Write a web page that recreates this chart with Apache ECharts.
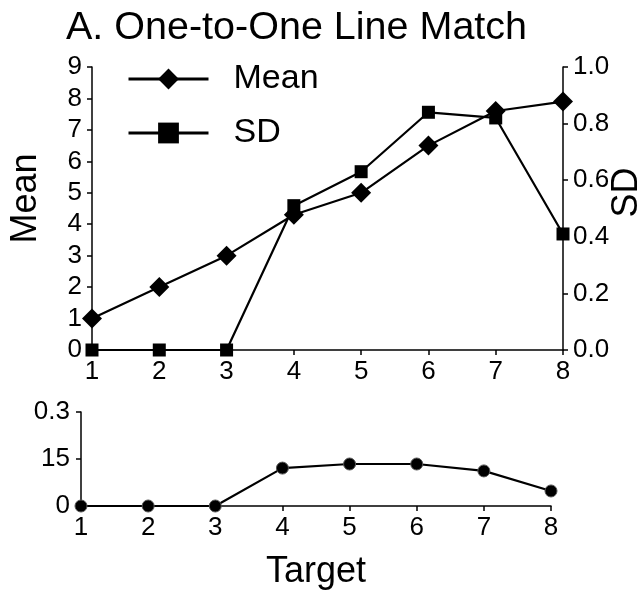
<!DOCTYPE html>
<html>
<head>
<meta charset="utf-8">
<script src="https://cdn.jsdelivr.net/npm/echarts@6/dist/echarts.min.js"></script>
<style>
  html, body { margin: 0; padding: 0; background: #fff; }
  #chart { width: 639px; height: 597px; }
</style>
</head>
<body>
<div id="chart"></div>
<script>
var targets = ['1', '2', '3', '4', '5', '6', '7', '8'];
var meanValues = [1, 2, 3, 4.3, 5.0, 6.5, 7.6, 7.9];
var sdValues = [0, 0, 0, 0.51, 0.63, 0.84, 0.82, 0.41];
var lowerValues = [0, 0, 0, 12.1, 13.4, 13.4, 11.2, 4.8];
var lowerTickLabels = { 0: '0', 15: '15', 30: '0.3' };

var font = 'Liberation Sans, Arial, sans-serif';
var axisLine = { show: true, lineStyle: { color: '#000', width: 1.5 } };
var axisTick = { show: true, length: 5, lineStyle: { color: '#000', width: 1.5 } };
var tickLabel = { color: '#000', fontSize: 26, fontFamily: font };

var chart = echarts.init(document.getElementById('chart'));

var option = {
    backgroundColor: '#fff',
    animation: false,
    title: {
        text: 'A. One-to-One Line Match',
        left: 66,
        top: 8,
        padding: 0,
        textStyle: { color: '#000', fontSize: 39.5, fontWeight: 'normal', fontFamily: font }
    },
    legend: {
        data: ['Mean', 'SD'],
        orient: 'vertical',
        left: 127,
        top: 62,
        padding: 0,
        itemWidth: 80,
        itemHeight: 26,
        itemGap: 20,
        lineStyle: { width: 3 },
        textStyle: { color: '#000', fontSize: 34, fontFamily: font, lineHeight: 34, padding: [0, 0, 0, 20] }
    },
    grid: [
        { left: 92, right: 76, top: 67, bottom: 247, outerBoundsMode: 'none' },
        { left: 81, right: 88, top: 412, bottom: 91, outerBoundsMode: 'none' }
    ],
    xAxis: [
        {
            gridIndex: 0,
            type: 'category',
            data: targets,
            boundaryGap: false,
            axisLine: axisLine,
            axisTick: axisTick,
            axisLabel: Object.assign({ margin: 9 }, tickLabel),
            splitLine: { show: false }
        },
        {
            gridIndex: 1,
            type: 'category',
            data: targets,
            boundaryGap: false,
            axisLine: axisLine,
            axisTick: axisTick,
            axisLabel: Object.assign({ margin: 9 }, tickLabel),
            splitLine: { show: false },
            name: 'Target',
            nameLocation: 'middle',
            nameGap: 48,
            nameTextStyle: { color: '#000', fontSize: 36, fontFamily: font }
        }
    ],
    yAxis: [
        {
            gridIndex: 0,
            type: 'value',
            min: 0,
            max: 9,
            interval: 1,
            position: 'left',
            axisLine: axisLine,
            axisTick: axisTick,
            axisLabel: Object.assign({ margin: 10 }, tickLabel),
            splitLine: { show: false },
            name: 'Mean',
            nameLocation: 'middle',
            nameRotate: 90,
            nameGap: 48,
            nameTextStyle: { color: '#000', fontSize: 36, fontFamily: font, padding: [0, 0, 0, 20] }
        },
        {
            gridIndex: 0,
            type: 'value',
            min: 0,
            max: 1,
            interval: 0.2,
            position: 'right',
            axisLine: axisLine,
            axisTick: axisTick,
            axisLabel: Object.assign({ margin: 10, formatter: function (v) { return v.toFixed(1); } }, tickLabel),
            splitLine: { show: false },
            name: 'SD',
            nameLocation: 'middle',
            nameRotate: 90,
            nameGap: 46,
            nameMoveOverlap: false,
            nameTextStyle: { color: '#000', fontSize: 36, fontFamily: font, padding: [0, 0, 0, 32] }
        },
        {
            gridIndex: 1,
            type: 'value',
            min: 0,
            max: 30,
            interval: 15,
            axisLine: axisLine,
            axisTick: axisTick,
            axisLabel: Object.assign({ margin: 11, formatter: function (v) { return lowerTickLabels[v]; } }, tickLabel),
            splitLine: { show: false }
        }
    ],
    series: [
        {
            name: 'SD',
            type: 'line',
            xAxisIndex: 0,
            yAxisIndex: 1,
            data: sdValues,
            symbol: 'rect',
            symbolSize: 13,
            lineStyle: { color: '#000', width: 2.2 },
            itemStyle: { color: '#000' }
        },
        {
            name: 'Mean',
            type: 'line',
            xAxisIndex: 0,
            yAxisIndex: 0,
            data: meanValues,
            symbol: 'diamond',
            symbolSize: 20,
            lineStyle: { color: '#000', width: 2.2 },
            itemStyle: { color: '#000' }
        },
        {
            name: 'Lower',
            type: 'line',
            xAxisIndex: 1,
            yAxisIndex: 2,
            data: lowerValues,
            symbol: 'circle',
            symbolSize: 12,
            lineStyle: { color: '#000', width: 2.2 },
            itemStyle: { color: '#000', borderColor: '#555', borderWidth: 1 }
        }
    ]
};

chart.setOption(option);
</script>
</body>
</html>
